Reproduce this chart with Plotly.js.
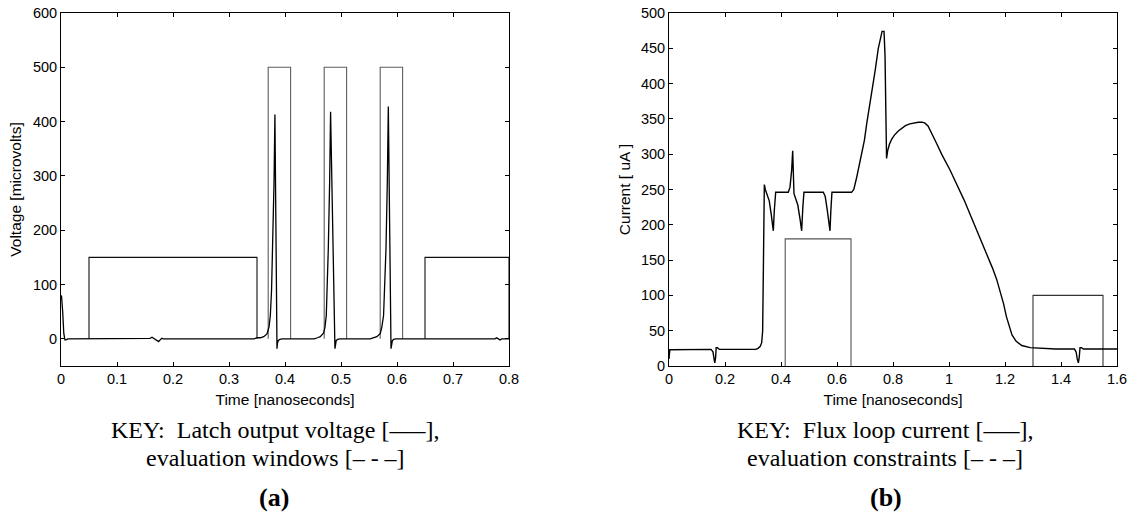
<!DOCTYPE html>
<html>
<head>
<meta charset="utf-8">
<script src="https://cdn.plot.ly/plotly-3.0.1.min.js"></script>
<style>
  html, body { margin: 0; padding: 0; background: #ffffff; }
  #chart { width: 1137px; height: 516px; }
</style>
</head>
<body>
<div id="chart"></div>
<script>
// ---------- Panel (a): latch output voltage ----------
const latchTime = [0, 0.001, 0.003, 0.005, 0.007, 0.009, 0.012,
  0.155, 0.159, 0.1625, 0.166, 0.170, 0.1743, 0.178, 0.180, 0.183,
  0.345, 0.350, 0.356, 0.362, 0.3678, 0.3715, 0.3738, 0.376, 0.378, 0.3804, 0.382,
  0.3857, 0.3865, 0.388, 0.391, 0.395,
  0.452, 0.458, 0.463, 0.469, 0.4715, 0.4737, 0.4755, 0.4773, 0.4797, 0.4814,
  0.4892, 0.490, 0.4915, 0.494, 0.498,
  0.552, 0.558, 0.564, 0.5702, 0.573, 0.576, 0.578, 0.5803, 0.5827, 0.5845,
  0.5893, 0.5903, 0.5918, 0.594, 0.598,
  0.775, 0.778, 0.781, 0.784, 0.787, 0.8];
const latchVoltage = [80, 78, 50, 10, -2, -2, 0,
  0, 1, 3, 1, -2, -5, -1, 1, 0,
  0, 2, 2, 4, 9, 22, 43, 90, 165, 288, 413,
  -18, -8, -3, -1, 0,
  0, 2, 4, 11, 22, 43, 90, 165, 288, 418,
  -18, -8, -3, -1, 0,
  0, 2, 4, 10, 22, 43, 90, 165, 288, 428,
  -18, -8, -3, -1, 0,
  0, 2, 0, -2, 0, 0];

const windowStart = [0.05, 0.37, 0.47, 0.57, 0.65];
const windowEnd   = [0.35, 0.41, 0.51, 0.61, 0.80];
const windowLevel = [150, 500, 500, 500, 150];
const windowColor = ['#111111', '#5e5e5e', '#5e5e5e', '#5e5e5e', '#111111'];

// ---------- Panel (b): flux loop current ----------
const fluxTime = [0, 0.003, 0.15, 0.157, 0.161, 0.1635, 0.1665, 0.1685, 0.173, 0.18,
  0.31, 0.318, 0.326, 0.331, 0.3345, 0.3375, 0.3405, 0.344, 0.349, 0.358, 0.365, 0.3726, 0.376, 0.381,
  0.426, 0.432, 0.438, 0.4417, 0.4464, 0.449, 0.4524, 0.46, 0.468, 0.4738, 0.478, 0.482,
  0.551, 0.558, 0.5655, 0.575, 0.578, 0.582,
  0.652, 0.66, 0.6702, 0.685, 0.698, 0.706, 0.7175, 0.7365, 0.7475, 0.7556, 0.761, 0.768,
  0.7715, 0.7745, 0.777, 0.781, 0.7873, 0.795, 0.805, 0.819, 0.832, 0.8444, 0.86, 0.8762, 0.89, 0.9041, 0.9143,
  0.925, 0.94, 0.9524, 0.975, 1.0032, 1.054, 1.105, 1.155, 1.17, 1.185, 1.195, 1.205, 1.215, 1.225, 1.24, 1.26,
  1.29, 1.33, 1.38,
  1.448, 1.454, 1.458, 1.462, 1.465, 1.468, 1.473, 1.48, 1.6];
const fluxCurrent = [10, 23, 23.5, 20, 10, 4.5, 12, 26, 26, 23.5,
  23.5, 25, 28, 33, 50, 150, 257, 250, 244, 234, 215, 191.5, 220, 246,
  246, 253, 277, 305, 244, 241, 237, 228, 208, 191.5, 225, 246,
  246, 240, 220, 191.5, 220, 246,
  246, 250, 267, 293, 320, 343, 370, 419, 450, 467, 474, 474,
  440, 360, 294, 305, 314, 321, 327, 333, 337, 340.5, 343, 344.5, 345.3, 345.5, 344,
  340, 329, 318, 299, 278, 235, 187, 139, 123, 104, 88, 70, 55, 44, 35, 29,
  26, 25, 24,
  24, 20, 10, 4.5, 12, 26, 26, 24, 24];

const constraintStart = [0.415, 1.30];
const constraintEnd   = [0.65, 1.55];
const constraintLevel = [180, 100];
const constraintColor = ['#555555', '#333333'];

// ---------- Build traces ----------
const traces = [];
function boxTrace(s, e, lvl, color, xa, ya) {
  return {
    type: 'scatter', mode: 'lines',
    x: [s, s, e, e], y: [0, lvl, lvl, 0],
    xaxis: xa, yaxis: ya,
    line: { color: color, width: 1.1 },
    hoverinfo: 'skip', showlegend: false
  };
}
for (let i = 0; i < windowStart.length; i++) {
  traces.push(boxTrace(windowStart[i], windowEnd[i], windowLevel[i], windowColor[i], 'x', 'y'));
}
traces.push({
  type: 'scatter', mode: 'lines', x: latchTime, y: latchVoltage,
  xaxis: 'x', yaxis: 'y', line: { color: '#000000', width: 1.3 }, showlegend: false
});
for (let i = 0; i < constraintStart.length; i++) {
  traces.push(boxTrace(constraintStart[i], constraintEnd[i], constraintLevel[i], constraintColor[i], 'x2', 'y2'));
}
traces.push({
  type: 'scatter', mode: 'lines', x: fluxTime, y: fluxCurrent,
  xaxis: 'x2', yaxis: 'y2', line: { color: '#000000', width: 1.4 }, showlegend: false
});

const sans = 'Liberation Sans, Arial, Helvetica, sans-serif';
const serif = 'Liberation Serif, Times New Roman, Times, serif';
const tickFont = { family: sans, size: 14.5, color: '#000000' };
const titleFont = { family: sans, size: 15.5, color: '#000000' };

function axisStyle(extra) {
  return Object.assign({
    showline: true, linecolor: '#000000', linewidth: 1, mirror: 'ticks',
    ticks: 'inside', ticklen: 4, tickcolor: '#000000', tickwidth: 1,
    showgrid: false, zeroline: false, automargin: false,
    tickfont: tickFont, fixedrange: true
  }, extra);
}

const yDomain = [1 - 366 / 516, 1 - 13 / 516];

const layout = {
  width: 1137, height: 516,
  margin: { l: 0, r: 0, t: 0, b: 0 },
  paper_bgcolor: '#ffffff', plot_bgcolor: '#ffffff',
  showlegend: false,
  xaxis: axisStyle({
    domain: [61 / 1137, 509 / 1137], range: [0, 0.8], tick0: 0, dtick: 0.1, anchor: 'y',
    title: { text: 'Time [nanoseconds]', font: titleFont, standoff: 7 }
  }),
  yaxis: axisStyle({
    domain: yDomain, range: [-50, 600], tick0: 0, dtick: 100, anchor: 'x',
    title: { text: 'Voltage [microvolts]', font: titleFont, standoff: 7 }
  }),
  xaxis2: axisStyle({
    domain: [669 / 1137, 1117 / 1137], range: [0, 1.6], tick0: 0, dtick: 0.2, anchor: 'y2',
    title: { text: 'Time [nanoseconds]', font: titleFont, standoff: 7 }
  }),
  yaxis2: axisStyle({
    domain: yDomain, range: [0, 500], tick0: 0, dtick: 50, anchor: 'x2',
    title: { text: 'Current [ uA ]', font: titleFont, standoff: 6 }
  }),
  annotations: [
    { xref: 'paper', yref: 'paper', x: 275 / 1137, y: 1 - 430 / 516, xanchor: 'center', yanchor: 'middle',
      showarrow: false, text: 'KEY:  Latch output voltage [—–],', font: { family: serif, size: 24, color: '#000' } },
    { xref: 'paper', yref: 'paper', x: 275 / 1137, y: 1 - 458 / 516, xanchor: 'center', yanchor: 'middle',
      showarrow: false, text: 'evaluation windows [– - –]', font: { family: serif, size: 24, color: '#000' } },
    { xref: 'paper', yref: 'paper', x: 274 / 1137, y: 1 - 497 / 516, xanchor: 'center', yanchor: 'middle',
      showarrow: false, text: '<b>(a)</b>', font: { family: serif, size: 26, color: '#000' } },
    { xref: 'paper', yref: 'paper', x: 885 / 1137, y: 1 - 430 / 516, xanchor: 'center', yanchor: 'middle',
      showarrow: false, text: 'KEY:  Flux loop current [—–],', font: { family: serif, size: 24, color: '#000' } },
    { xref: 'paper', yref: 'paper', x: 885 / 1137, y: 1 - 458 / 516, xanchor: 'center', yanchor: 'middle',
      showarrow: false, text: 'evaluation constraints [– - –]', font: { family: serif, size: 24, color: '#000' } },
    { xref: 'paper', yref: 'paper', x: 886 / 1137, y: 1 - 497 / 516, xanchor: 'center', yanchor: 'middle',
      showarrow: false, text: '<b>(b)</b>', font: { family: serif, size: 26, color: '#000' } }
  ]
};

Plotly.newPlot('chart', traces, layout, { staticPlot: true, displayModeBar: false });
</script>
</body>
</html>
